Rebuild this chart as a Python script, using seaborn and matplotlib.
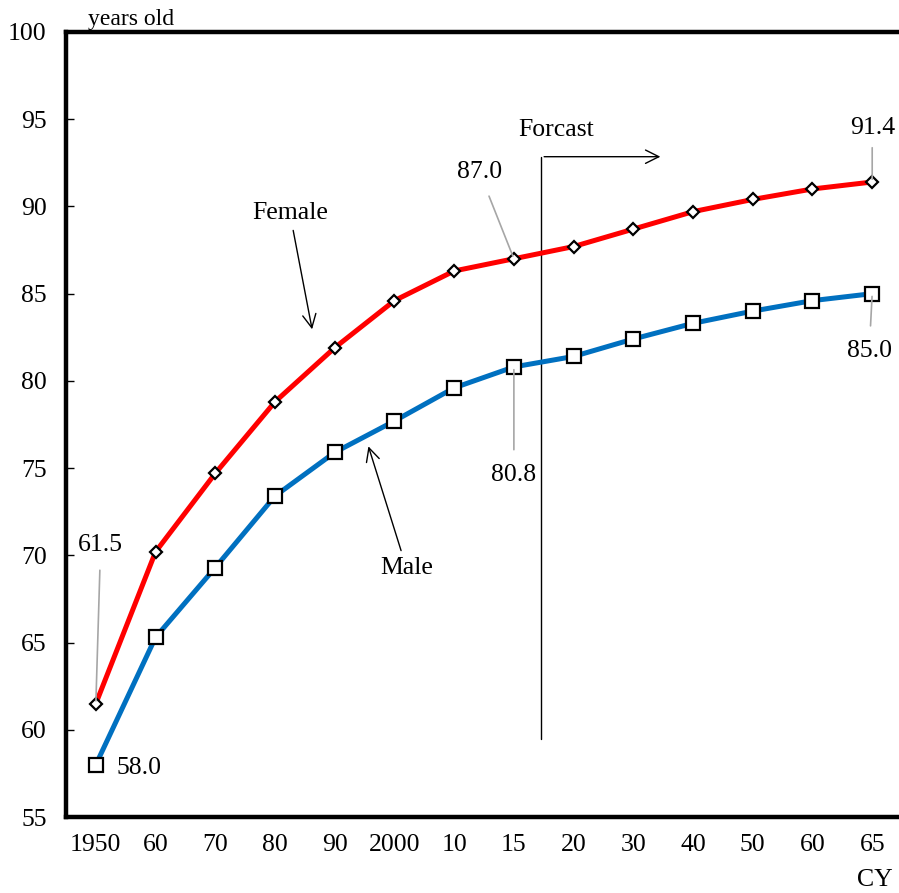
import matplotlib.pyplot as plt
import numpy as np
import pandas as pd
import seaborn as sns

# calendar years (shown as short labels) and life expectancy values
year_labels = ['1950', '60', '70', '80', '90', '2000', '10', '15',
               '20', '30', '40', '50', '60', '65']
female = [61.5, 70.2, 74.7, 78.8, 81.9, 84.6, 86.3, 87.0,
          87.7, 88.7, 89.7, 90.4, 91.0, 91.4]
male = [58.0, 65.3, 69.3, 73.4, 75.9, 77.7, 79.6, 80.8,
        81.4, 82.4, 83.3, 84.0, 84.6, 85.0]

red = '#ff0000'
blue = '#0070c0'
gray = '#a6a6a6'

if __name__ == '__main__':
    df = pd.DataFrame({'pos': np.arange(len(year_labels)),
                       'Female': female, 'Male': male})

    sns.set_style('white')
    plt.rcParams['font.family'] = ['Liberation Serif', 'DejaVu Serif']
    plt.rcParams['font.size'] = 18.5
    plt.rcParams['text.color'] = 'black'
    plt.rcParams['xtick.color'] = 'black'
    plt.rcParams['ytick.color'] = 'black'
    plt.rcParams['xtick.labelcolor'] = 'black'
    plt.rcParams['ytick.labelcolor'] = 'black'

    fig = plt.figure(figsize=(8.99, 8.93), dpi=100)
    ax = fig.add_axes([0.0734, 0.0851, 0.93, 0.8791])

    # lines with markers
    sns.lineplot(data=df, x='pos', y='Female', ax=ax, color=red, lw=3.6,
                 marker='D', markersize=6.5, markerfacecolor='white',
                 markeredgecolor='black', markeredgewidth=1.6, zorder=3)
    sns.lineplot(data=df, x='pos', y='Male', ax=ax, color=blue, lw=3.6,
                 marker='s', markersize=10, markerfacecolor='white',
                 markeredgecolor='black', markeredgewidth=1.6, zorder=3)

    ax.set_xlim(-0.5, 13.5)
    ax.set_ylim(55, 100)
    ax.set_yticks(range(55, 101, 5))
    ax.set_xticks(df['pos'])
    ax.set_xticklabels(year_labels)
    ax.set_xlabel('')
    ax.set_ylabel('')
    ax.tick_params(axis='y', direction='in', length=6, width=1, left=True,
                   pad=14)
    ax.tick_params(axis='x', length=0, pad=12)

    for side in ['left', 'bottom', 'top']:
        ax.spines[side].set_linewidth(3.2)
        ax.spines[side].set_color('black')
    ax.spines['right'].set_visible(False)

    # value labels with gray leader lines
    leader = dict(arrowstyle='-', color=gray, lw=1.2, shrinkA=8)
    ax.annotate('61.5', xy=(0, female[0]), xytext=(0.08, 70.6),
                ha='center', va='center', arrowprops=leader)
    ax.annotate('87.0', xy=(7, female[7]), xytext=(6.42, 92.0),
                ha='center', va='center', arrowprops=leader)
    ax.annotate('91.4', xy=(13, female[13]), xytext=(13.0, 94.5),
                ha='center', va='center',
                arrowprops=dict(leader, shrinkA=4))
    ax.annotate('80.8', xy=(7, male[7]), xytext=(7.0, 74.6),
                ha='center', va='center', arrowprops=leader)
    ax.annotate('85.0', xy=(13, male[13]), xytext=(12.95, 81.7),
                ha='center', va='center', arrowprops=leader)
    ax.text(0.35, 57.8, '58.0', ha='left', va='center')

    # series labels with arrows
    pointer = dict(arrowstyle='->', color='black', lw=1, mutation_scale=24)
    ax.annotate('Female', xy=(3.63, 82.8), xytext=(3.25, 89.6),
                ha='center', va='center', arrowprops=pointer)
    ax.annotate('Male', xy=(4.55, 76.4), xytext=(5.2, 69.3),
                ha='center', va='center', arrowprops=pointer)

    # forecast marker
    ax.plot([7.46, 7.46], [59.5, 92.85], color='black', lw=1)
    ax.annotate('', xy=(9.5, 92.85), xytext=(7.46, 92.85),
                arrowprops=pointer)
    ax.text(7.7, 94.4, 'Forcast', ha='center', va='center')

    # axis unit labels
    ax.text(0.078, 1.002, 'years old', transform=ax.transAxes,
            ha='center', va='bottom', fontsize=17)
    fig.text(0.973, 0.015, 'CY', ha='center', va='center')

    fig.savefig('out.png', dpi=100, facecolor='white')
